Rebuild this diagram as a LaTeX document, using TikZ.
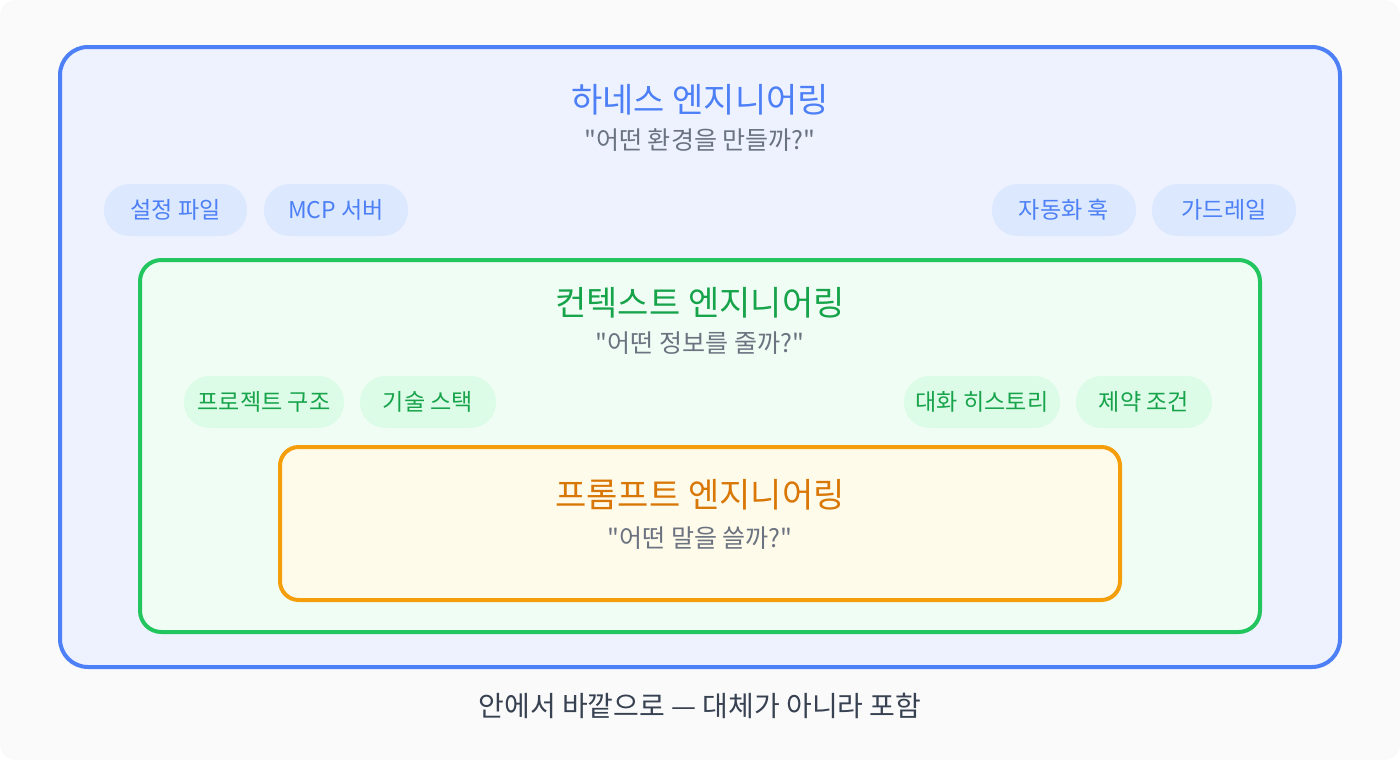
\documentclass[tikz,border=0pt]{standalone}
\usepackage{fontspec}
\setmainfont{Noto Sans CJK KR}[Ligatures=TeXOff]

\definecolor{bgGray}{RGB}{250,250,250}
\definecolor{harnessLine}{RGB}{77,128,246}
\definecolor{harnessFill}{RGB}{238,242,255}
\definecolor{harnessPill}{RGB}{219,232,254}
\definecolor{contextLine}{RGB}{34,197,94}
\definecolor{contextFill}{RGB}{240,253,244}
\definecolor{contextPill}{RGB}{220,252,231}
\definecolor{contextText}{RGB}{22,163,74}
\definecolor{promptLine}{RGB}{245,158,11}
\definecolor{promptFill}{RGB}{255,251,235}
\definecolor{promptText}{RGB}{217,119,6}
\definecolor{subGray}{RGB}{107,114,128}
\definecolor{footGray}{RGB}{55,65,81}

\tikzset{every picture/.style={line width=0.75pt}}
\tikzset{
  layer title/.style={inner sep=0.75pt, font=\fontsize{25.5}{30}\selectfont},
  layer question/.style={inner sep=0.75pt, text=subGray, font=\fontsize{18.8}{22}\selectfont},
  pill/.style={rounded corners=19pt, minimum height=39pt, inner sep=0pt, font=\fontsize{17.3}{20}\selectfont},
  harness pill/.style={pill, fill=harnessPill, text=harnessLine},
  context pill/.style={pill, fill=contextPill, text=contextText},
}

\begin{document}
\begin{tikzpicture}[x=0.75pt,y=0.75pt,yscale=-1,xscale=1]
		\useasboundingbox (0,0) rectangle (1400,760);

		%Shape: Rounded Rect [id:bg]
		\fill [bgGray, rounded corners=12pt] (0,0) rectangle (1400,760);
		%Shape: Rounded Rect [id:harness]
		\draw [harnessLine, line width=3pt, fill=harnessFill, rounded corners=21pt] (60,47) rectangle (1340,667);
		%Shape: Rounded Rect [id:context]
		\draw [contextLine, line width=3pt, fill=contextFill, rounded corners=16pt] (140,260) rectangle (1260,632);
		%Shape: Rounded Rect [id:prompt]
		\draw [promptLine, line width=3pt, fill=promptFill, rounded corners=14pt] (280,447) rectangle (1120,600);

		% Text Node
		\node [layer title, text=harnessLine] (harnessTitle) at (700,100) {하네스 엔지니어링};
		% Text Node
		\node [layer question] (harnessAsk) at (700,140) {"어떤 환경을 만들까?"};
		% Text Node
		\node [harness pill, minimum width=107.25pt] (cfgFile) at (175.5,210) {설정 파일};
		\node [harness pill, minimum width=108pt] (mcpServer) at (336,210) {MCP 서버};
		\node [harness pill, minimum width=108pt] (autoHook) at (1064,210) {자동화 훅};
		\node [harness pill, minimum width=108pt] (guardRail) at (1224,210) {가드레일};

		% Text Node
		\node [layer title, text=contextText] (contextTitle) at (700,303) {컨텍스트 엔지니어링};
		% Text Node
		\node [layer question] (contextAsk) at (700,343) {"어떤 정보를 줄까?"};
		% Text Node
		\node [context pill, minimum width=120pt] (projTree) at (264,402) {프로젝트 구조};
		\node [context pill, minimum width=102pt] (techStack) at (428,402) {기술 스택};
		\node [context pill, minimum width=117pt] (chatHist) at (982,402) {대화 히스토리};
		\node [context pill, minimum width=102pt] (limits) at (1144,402) {제약 조건};

		% Text Node
		\node [layer title, text=promptText] (promptTitle) at (700,495) {프롬프트 엔지니어링};
		% Text Node
		\node [layer question] (promptAsk) at (700,538) {"어떤 말을 쓸까?"};

		% Text Node
		\node [inner sep=0.75pt, text=footGray, font=\fontsize{21}{25}\selectfont] (footNote) at (700,706) {안에서 바깥으로 — 대체가 아니라 포함};

\end{tikzpicture}
\end{document}
